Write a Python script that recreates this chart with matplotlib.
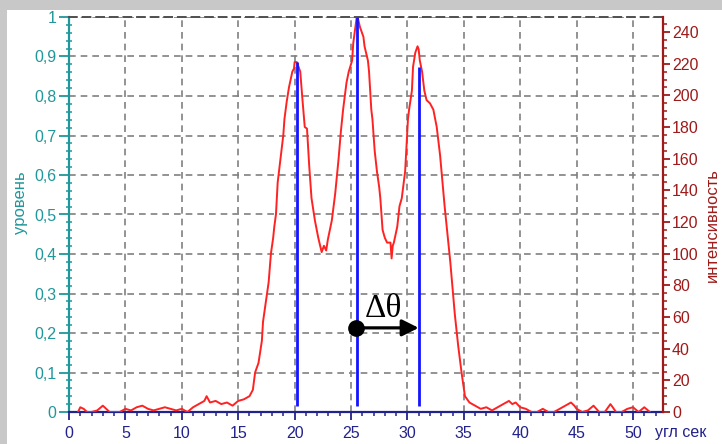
import matplotlib
matplotlib.use("Agg")
import matplotlib.pyplot as plt
from matplotlib.patches import Rectangle
from matplotlib.ticker import MultipleLocator, FixedLocator, FixedFormatter

# угол (угл сек) и интенсивность красной кривой
angle = [0.8, 1.0, 1.3, 1.6, 2.0, 2.5, 3.0, 3.3, 3.6, 4.0, 4.5, 5.0, 5.5, 6.0, 6.5,
         7.0, 7.5, 8.0, 8.5, 9.0, 9.5, 10.0, 10.5, 11.0, 11.5, 12.0, 12.2, 12.5,
         13.0, 13.5, 14.0, 14.5, 15.0, 15.5, 16.0, 16.3, 16.5, 16.8, 17.1, 17.2,
         17.5, 17.7, 17.9, 18.1, 18.2, 18.35, 18.5, 18.7, 19.0, 19.1, 19.3, 19.5,
         19.8, 19.95, 20.0, 20.2, 20.5, 20.7, 20.9, 21.1, 21.3, 21.5, 21.8, 22.1,
         22.4, 22.6, 22.8, 22.95, 23.3, 23.6, 23.9, 24.1, 24.3, 24.5, 24.6, 24.8,
         25.1, 25.2, 25.35, 25.5, 25.6, 25.8, 26.1, 26.2, 26.5, 26.6, 26.8, 26.9,
         27.1, 27.3, 27.5, 27.6, 27.8, 28.0, 28.2, 28.5, 28.6, 28.7, 28.8, 29.1,
         29.3, 29.5, 29.8, 30.05, 30.15, 30.4, 30.5, 30.7, 30.9, 31.0, 31.1, 31.3,
         31.5, 31.7, 32.0, 32.3, 32.6, 32.9, 33.3, 33.8, 34.2, 34.5, 34.8, 35.0,
         35.1, 35.5, 36.0, 36.5, 37.0, 37.5, 38.0, 38.5, 39.0, 39.3, 39.6, 40.0,
         40.5, 41.0, 41.5, 42.0, 42.5, 43.0, 43.5, 44.0, 44.5, 44.8, 45.0, 45.5,
         46.0, 46.5, 47.0, 47.5, 48.0, 48.5, 49.0, 49.5, 50.0, 50.5, 51.0, 51.5]
intensity = [0, 3, 2, 0, 0, 1, 4, 2, 0, 0, 0, 2, 1, 3, 4,
             2, 1, 2, 3, 2, 1, 2, 0, 3, 5, 7, 10, 6,
             7, 5, 6, 4, 7, 8, 10, 14, 25, 31, 45, 57,
             72, 82, 100, 110, 117, 125, 145, 157, 175, 185, 196, 205,
             215, 217, 221, 221, 215, 197, 180, 179, 155, 135, 121, 110,
             101, 105, 102, 109, 121, 138, 160, 177, 191, 202, 208, 215,
             222, 233, 241, 249, 249, 243, 237, 231, 222, 215, 191, 185,
             165, 152, 142, 135, 115, 110, 107, 107, 97, 105, 107, 117,
             130, 135, 152, 185, 191, 203, 218, 227, 231, 229, 222, 215,
             203, 197, 195, 191, 180, 162, 130, 95, 62, 42, 25, 15,
             10, 6, 4, 2, 3, 1, 3, 5, 7, 5, 6, 3,
             2, 0, 0, 2, 0, 0, 2, 4, 6, 4, 2, 0,
             1, 4, 0, 0, 5, 0, 0, 2, 3, 0, 3, 0]

# синие линии (положения пиков) и уровни
peak_angle = [20.2, 25.55, 31.0]
peak_level = [0.886, 1.0, 0.873]
line_base = 0.015

level_ticks = [0, 0.1, 0.2, 0.3, 0.4, 0.5, 0.6, 0.7, 0.8, 0.9, 1.0]
level_labels = ["0", "0,1", "0,2", "0,3", "0,4", "0,5", "0,6", "0,7", "0,8", "0,9", "1"]
angle_ticks = [0, 5, 10, 15, 20, 25, 30, 35, 40, 45, 50]
int_ticks = [0, 20, 40, 60, 80, 100, 120, 140, 160, 180, 200, 220, 240]

teal = "#20979a"
navy = "#22228c"
darkred = "#9e1a1a"
plt.rcParams["font.family"] = ["Liberation Sans", "DejaVu Sans"]

fig = plt.figure(figsize=(7.22, 4.44), dpi=100)
fig.patch.set_facecolor("#c8c8c8")
fig.patches.append(Rectangle((7 / 722, 0), 1, 434 / 444, transform=fig.transFigure,
                             facecolor="white", edgecolor="none", zorder=-10))

ax = fig.add_axes([69 / 722, 32 / 444, 594 / 722, 395 / 444])
ax.patch.set_visible(False)
ax.set_xlim(0, 52.66)
ax.set_ylim(0, 1)

ax.yaxis.set_major_locator(FixedLocator(level_ticks))
ax.yaxis.set_major_formatter(FixedFormatter(level_labels))
ax.yaxis.set_minor_locator(MultipleLocator(0.02))
ax.xaxis.set_major_locator(FixedLocator(angle_ticks))
ax.xaxis.set_minor_locator(MultipleLocator(1))

ax.grid(True, which="major", color="#808080", linestyle=(0, (4, 3)), linewidth=1.2)
ax.set_axisbelow(True)

ax.tick_params(axis="y", which="major", direction="out", length=7, width=1.3,
               color=teal, labelcolor=teal, labelsize=11.5, pad=2)
ax.tick_params(axis="y", which="minor", direction="inout", length=4, width=1.1, color=teal)
ax.tick_params(axis="x", which="major", direction="out", length=6, width=1.3,
               color=navy, labelcolor=navy, labelsize=11.5, pad=4)
ax.tick_params(axis="x", which="minor", direction="out", length=3, width=1.1, color=navy)

ax.spines["left"].set_color(teal)
ax.spines["left"].set_linewidth(1.6)
ax.spines["bottom"].set_color(navy)
ax.spines["bottom"].set_linewidth(1.6)
ax.spines["top"].set_color("#505050")
ax.spines["top"].set_linestyle((0, (4, 3)))
ax.spines["top"].set_linewidth(1.4)
ax.spines["right"].set_visible(False)

ax2 = ax.twinx()
ax2.plot(angle, intensity, color="#ff2222", linewidth=1.4)
ax2.vlines(peak_angle, line_base, peak_level, colors="#1414ff", linewidth=2,
           transform=ax.transData)

# Δθ
ax2.plot([peak_angle[1] - 0.1], [0.213], "o", color="black", markersize=11,
         transform=ax.transData, zorder=5)
ax2.annotate("", xy=(peak_angle[2], 0.213), xytext=(peak_angle[1] - 0.1, 0.213),
             xycoords=ax.transData, textcoords=ax.transData,
             arrowprops=dict(arrowstyle="-|>,head_length=1.0,head_width=0.5",
                             color="black", linewidth=2.3, shrinkA=0, shrinkB=0))
ax2.text(27.9, 0.262, "Δθ", transform=ax.transData, ha="center", va="center",
         fontsize=24, family=["Liberation Serif", "DejaVu Serif"], color="black")

ax2.set_xlim(0, 52.66)
ax2.set_ylim(0, 249.5)
ax2.yaxis.set_major_locator(FixedLocator(int_ticks))
ax2.yaxis.set_minor_locator(MultipleLocator(5))
ax2.tick_params(axis="y", which="major", direction="out", length=5, width=1.3,
                color=darkred, labelcolor=darkred, labelsize=11.5, pad=1.5)
ax2.tick_params(axis="y", which="minor", direction="out", length=3, width=1.1, color=darkred)
for side in ["left", "top", "bottom"]:
    ax2.spines[side].set_visible(False)
ax2.spines["right"].set_color(darkred)
ax2.spines["right"].set_linewidth(1.6)

fig.text(20 / 722, (444 - 203) / 444, "уровень", rotation=90, color=teal,
         fontsize=12, ha="center", va="center")
fig.text(712 / 722, (444 - 225) / 444, "интенсивность", rotation=90, color=darkred,
         fontsize=12, ha="center", va="center")
fig.text(681 / 722, (444 - 432) / 444, "угл сек", color=navy, fontsize=11.5,
         ha="center", va="center")

fig.savefig("out.png", dpi=100, facecolor=fig.get_facecolor())
